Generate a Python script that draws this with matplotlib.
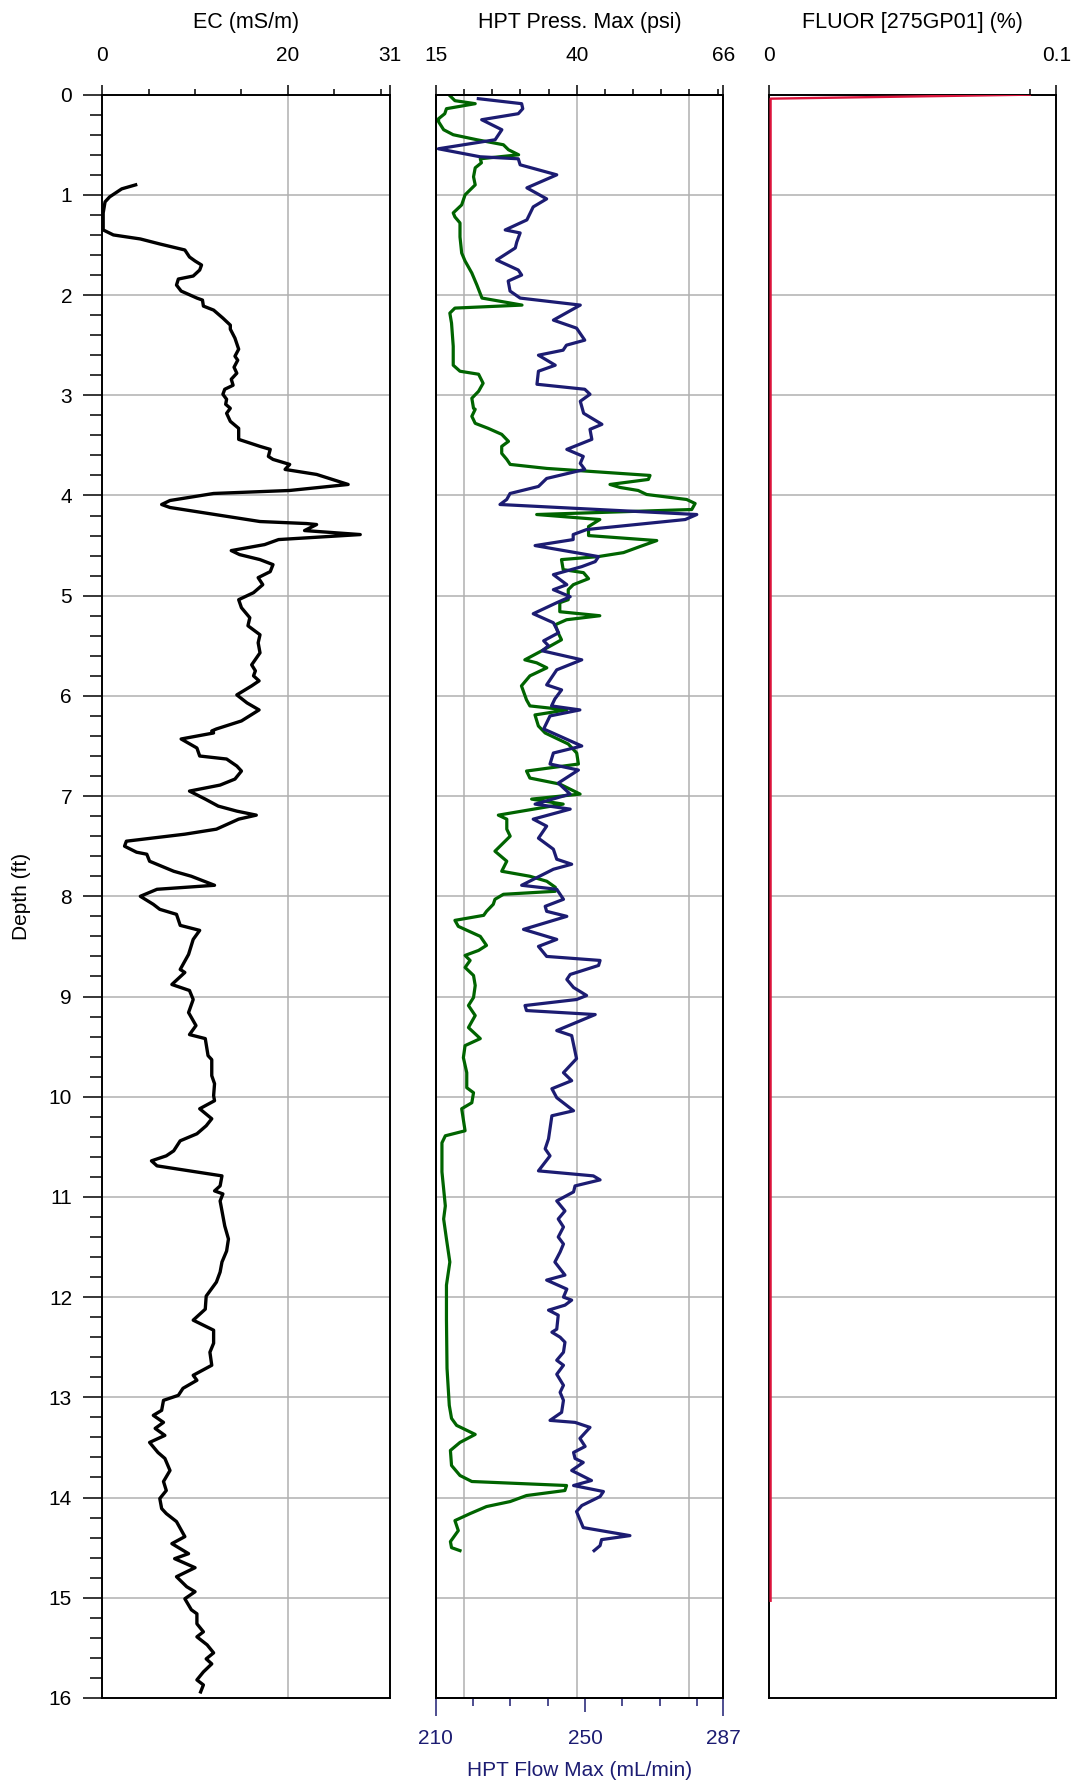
import matplotlib
matplotlib.use("Agg")
import matplotlib.pyplot as plt

plt.rcParams["font.family"] = ["Liberation Sans", "DejaVu Sans"]

# ---- EC log (mS/m) ----
ec_depth = [0.90, 0.94, 1.02, 1.07, 1.18, 1.35, 1.40, 1.44, 1.49, 1.55, 1.62, 1.66, 1.70, 1.75,
            1.81, 1.84, 1.90, 1.96, 2.03, 2.05, 2.11, 2.15, 2.23, 2.30, 2.34, 2.43, 2.54, 2.61,
            2.65, 2.72, 2.78, 2.84, 2.90, 2.94, 2.99, 3.04, 3.09, 3.13, 3.18, 3.26, 3.33, 3.44,
            3.51, 3.54, 3.61, 3.64, 3.69, 3.74, 3.79, 3.89, 3.95, 3.98, 4.05, 4.09, 4.12, 4.26,
            4.28, 4.29, 4.35, 4.39, 4.44, 4.49, 4.55, 4.59, 4.64, 4.69, 4.76, 4.82, 4.89, 4.97,
            5.04, 5.12, 5.22, 5.30, 5.39, 5.47, 5.57, 5.69, 5.75, 5.80, 5.85, 5.90, 5.99, 6.07,
            6.14, 6.25, 6.33, 6.35, 6.37, 6.43, 6.52, 6.60, 6.63, 6.70, 6.75, 6.83, 6.89, 6.95,
            7.03, 7.10, 7.15, 7.19, 7.23, 7.33, 7.38, 7.45, 7.50, 7.56, 7.58, 7.65, 7.75, 7.80,
            7.89, 7.93, 8.00, 8.08, 8.13, 8.18, 8.29, 8.34, 8.43, 8.58, 8.73, 8.76, 8.88, 8.94,
            9.03, 9.16, 9.29, 9.38, 9.42, 9.59, 9.63, 9.79, 9.87, 9.99, 10.04, 10.12, 10.22,
            10.29, 10.37, 10.44, 10.54, 10.59, 10.64, 10.69, 10.79, 10.89, 10.94, 10.97, 11.04,
            11.14, 11.29, 11.42, 11.54, 11.65, 11.75, 11.85, 11.99, 12.12, 12.23, 12.33, 12.46,
            12.55, 12.68, 12.78, 12.83, 12.91, 12.98, 13.03, 13.13, 13.18, 13.25, 13.31, 13.38,
            13.45, 13.55, 13.61, 13.73, 13.84, 13.93, 14.01, 14.11, 14.16, 14.24, 14.39, 14.46,
            14.56, 14.61, 14.70, 14.79, 14.89, 14.94, 15.01, 15.12, 15.16, 15.26, 15.34, 15.39,
            15.47, 15.55, 15.61, 15.66, 15.74, 15.82, 15.87, 15.94]
ec_value = [3.6, 2.1, 0.8, 0.3, 0.1, 0.1, 1.2, 4.1, 6.2, 8.9, 9.4, 10.0, 10.7, 10.5,
            9.8, 8.2, 8.0, 8.5, 10.2, 10.8, 10.9, 12.0, 13.0, 13.8, 13.8, 14.3, 14.7, 14.3,
            14.6, 14.2, 14.5, 13.9, 14.1, 13.2, 13.0, 13.4, 13.3, 13.8, 13.4, 13.8, 14.7, 14.7,
            17.0, 18.1, 17.9, 18.4, 20.2, 19.7, 23.1, 26.5, 20.2, 12.0, 7.3, 6.4, 7.3, 17.0,
            22.0, 23.1, 21.8, 27.8, 19.0, 17.5, 13.9, 14.8, 17.0, 18.4, 18.1, 16.8, 17.3, 16.3,
            14.7, 15.0, 15.9, 15.7, 17.0, 16.8, 17.0, 16.1, 16.5, 16.3, 16.9, 16.1, 14.5, 15.6,
            16.9, 15.0, 12.3, 11.8, 12.0, 8.5, 10.2, 10.5, 13.4, 14.5, 15.0, 14.3, 12.7, 9.4,
            11.1, 12.5, 14.5, 16.6, 14.7, 12.3, 8.9, 2.6, 2.4, 3.7, 4.8, 5.1, 7.7, 9.6,
            12.1, 5.9, 4.1, 5.5, 6.2, 8.0, 8.4, 10.5, 9.8, 9.3, 8.4, 8.9, 7.5, 9.4,
            9.8, 9.3, 10.1, 9.4, 11.1, 11.4, 11.8, 11.8, 12.1, 12.0, 12.1, 10.5, 11.8,
            11.2, 10.2, 8.4, 7.7, 6.9, 5.3, 5.9, 12.9, 12.7, 12.1, 13.0, 12.7,
            12.9, 13.2, 13.6, 13.4, 12.9, 12.7, 12.3, 11.2, 11.1, 9.8, 12.0, 12.0,
            11.6, 11.8, 9.8, 10.2, 8.7, 8.2, 6.6, 6.4, 5.5, 6.6, 5.7, 6.75,
            5.1, 6.0, 6.75, 7.3, 6.6, 6.9, 6.2, 6.4, 6.9, 8.0, 8.9, 7.5,
            9.3, 7.8, 10.0, 8.0, 9.1, 10.0, 8.9, 9.6, 10.2, 10.2, 10.9, 10.2,
            11.3, 12.0, 11.2, 11.8, 10.9, 10.2, 10.9, 10.6]

# ---- HPT pressure (psi) ----
press_depth = [0.01, 0.06, 0.09, 0.14, 0.19, 0.24, 0.27, 0.35, 0.40, 0.45, 0.50, 0.55, 0.60,
               0.64, 0.68, 0.73, 0.82, 0.90, 0.95, 1.00, 1.10, 1.18, 1.22, 1.28, 1.42, 1.58,
               1.66, 1.78, 1.90, 2.03, 2.10, 2.13, 2.18, 2.28, 2.51, 2.70, 2.76, 2.79, 2.88,
               2.96, 3.03, 3.13, 3.14, 3.21, 3.28, 3.33, 3.39, 3.46, 3.51, 3.58, 3.64, 3.69,
               3.73, 3.80, 3.84, 3.89, 3.92, 3.95, 3.99, 4.04, 4.08, 4.14, 4.19, 4.24, 4.31,
               4.40, 4.45, 4.51, 4.57, 4.61, 4.64, 4.74, 4.77, 4.83, 4.89, 4.94, 5.04, 5.07,
               5.16, 5.20, 5.24, 5.29, 5.37, 5.44, 5.55, 5.64, 5.67, 5.72, 5.80, 5.90, 6.04,
               6.10, 6.14, 6.19, 6.30, 6.37, 6.48, 6.57, 6.68, 6.75, 6.82, 6.88, 6.98, 7.03,
               7.08, 7.19, 7.23, 7.33, 7.40, 7.55, 7.65, 7.75, 7.80, 7.85, 7.91, 7.95, 7.98,
               8.03, 8.08, 8.15, 8.19, 8.24, 8.30, 8.40, 8.49, 8.54, 8.59, 8.64, 8.71, 8.79,
               8.89, 9.01, 9.09, 9.19, 9.31, 9.42, 9.49, 9.61, 9.76, 9.91, 9.96, 10.06, 10.12,
               10.34, 10.39, 10.46, 10.75, 11.09, 11.22, 11.42, 11.65, 11.88, 12.22, 12.71,
               13.08, 13.21, 13.28, 13.37, 13.45, 13.53, 13.68, 13.78, 13.84, 13.88, 13.93,
               13.98, 14.04, 14.09, 14.16, 14.23, 14.33, 14.44, 14.50, 14.53]
press_value = [17.5, 18.4, 22.0, 16.9, 16.6, 15.5, 15.5, 16.4, 18.1, 22.3, 27.0, 27.9, 29.7,
               22.9, 23.1, 22.0, 21.7, 22.0, 21.1, 20.2, 19.6, 18.1, 18.4, 19.3, 19.3, 19.6,
               20.2, 21.4, 22.3, 23.2, 30.3, 18.4, 17.5, 17.8, 18.1, 18.1, 19.3, 22.6, 23.4,
               22.6, 21.4, 21.7, 22.0, 21.4, 22.0, 24.3, 26.7, 27.9, 26.7, 26.7, 27.6, 28.2,
               34.7, 53.0, 52.7, 45.9, 47.7, 50.9, 52.4, 59.5, 61.0, 60.4, 32.9, 44.1, 42.1,
               42.1, 54.2, 51.2, 48.3, 43.8, 37.3, 37.6, 41.2, 42.1, 39.4, 38.5, 38.5, 37.0,
               37.0, 44.1, 38.2, 36.2, 36.7, 37.3, 33.8, 30.8, 32.9, 34.7, 31.7, 30.2, 31.1,
               31.7, 38.2, 32.6, 33.2, 34.4, 38.5, 40.0, 40.3, 31.1, 31.7, 37.0, 40.6, 32.0,
               37.6, 26.1, 27.6, 27.6, 28.2, 25.5, 27.6, 26.7, 31.7, 34.7, 36.2, 36.2, 27.0,
               25.5, 25.2, 24.0, 23.5, 18.4, 19.0, 22.9, 24.0, 22.6, 20.2, 21.1, 20.2, 21.7,
               22.0, 21.7, 20.8, 22.0, 20.8, 22.9, 20.2, 19.9, 20.5, 20.5, 21.7, 21.4, 19.6,
               20.2, 16.7, 16.1, 16.1, 16.7, 16.4, 16.9, 17.5, 16.9, 16.9, 17.0,
               17.4, 17.8, 18.7, 22.0, 19.3, 17.6, 17.8, 19.3, 21.4, 38.2, 37.9,
               31.1, 28.2, 24.0, 21.1, 18.4, 19.0, 17.6, 17.8, 19.3]

# ---- HPT flow (mL/min) ----
flow_depth = [0.04, 0.09, 0.14, 0.19, 0.25, 0.35, 0.45, 0.54, 0.62, 0.64, 0.70, 0.80, 0.93,
              1.04, 1.12, 1.25, 1.35, 1.38, 1.47, 1.53, 1.65, 1.75, 1.80, 1.86, 1.96, 2.03,
              2.10, 2.25, 2.33, 2.45, 2.50, 2.55, 2.60, 2.70, 2.76, 2.89, 2.94, 2.99, 3.06,
              3.18, 3.29, 3.34, 3.44, 3.54, 3.61, 3.68, 3.74, 3.83, 3.91, 3.98, 4.04, 4.09,
              4.19, 4.24, 4.34, 4.39, 4.44, 4.50, 4.61, 4.66, 4.71, 4.79, 4.89, 4.94, 5.01,
              5.07, 5.18, 5.27, 5.37, 5.45, 5.50, 5.55, 5.64, 5.74, 5.89, 5.94, 6.03, 6.10,
              6.14, 6.20, 6.33, 6.50, 6.57, 6.68, 6.74, 6.87, 6.98, 7.08, 7.13, 7.23, 7.30,
              7.42, 7.53, 7.63, 7.68, 7.73, 7.89, 7.93, 8.03, 8.10, 8.15, 8.20, 8.33, 8.43,
              8.50, 8.60, 8.64, 8.69, 8.78, 8.83, 8.91, 8.99, 9.03, 9.09, 9.14, 9.18, 9.34,
              9.39, 9.62, 9.76, 9.84, 9.92, 10.01, 10.14, 10.19, 10.42, 10.52, 10.59, 10.74,
              10.79, 10.83, 10.89, 10.95, 11.04, 11.14, 11.22, 11.30, 11.40, 11.47, 11.55,
              11.65, 11.78, 11.83, 11.92, 12.00, 12.03, 12.08, 12.13, 12.18, 12.32, 12.35,
              12.40, 12.45, 12.55, 12.63, 12.68, 12.77, 12.88, 12.95, 13.03, 13.15, 13.23,
              13.25, 13.30, 13.41, 13.49, 13.55, 13.61, 13.65, 13.73, 13.83, 13.88, 13.94,
              13.99, 14.08, 14.14, 14.30, 14.38, 14.42, 14.48, 14.53]
flow_value = [221.4, 233.0, 233.3, 232.1, 222.3, 227.7, 225.9, 210.7, 221.9, 232.1, 232.6, 242.4, 234.4,
              239.7, 236.1, 234.4, 228.6, 232.6, 231.7, 231.3, 226.3, 232.1, 233.0, 229.4, 229.9, 232.6,
              248.7, 241.5, 247.7, 249.9, 245.0, 244.1, 237.5, 242.0, 237.5, 237.1, 249.9, 251.3, 248.7,
              249.6, 254.5, 251.3, 251.8, 245.1, 249.5, 248.7, 249.9, 239.7, 237.5, 229.9, 229.0, 227.2,
              279.9, 276.8, 250.4, 246.8, 246.8, 236.6, 253.6, 252.7, 249.1, 241.5, 245.1, 241.5, 246.0,
              242.4, 236.1, 241.5, 242.9, 238.9, 240.2, 238.5, 249.1, 242.4, 239.7, 243.7, 241.9, 241.0,
              248.6, 240.6, 238.9, 249.1, 241.5, 240.6, 248.2, 242.8, 246.0, 236.6, 246.0, 236.1, 239.7,
              237.5, 241.5, 242.4, 246.4, 241.5, 233.0, 242.4, 244.2, 239.3, 239.7, 245.1, 233.5, 242.4,
              237.5, 239.7, 254.0, 253.6, 246.0, 245.1, 246.9, 250.4, 247.7, 233.9, 234.3, 252.7, 242.4,
              246.4, 247.7, 244.2, 246.4, 241.1, 242.4, 246.9, 241.1, 240.2, 239.3, 240.6, 237.5,
              252.2, 254.0, 247.3, 246.9, 242.4, 244.6, 242.8, 244.2, 242.8, 244.2, 243.3,
              241.9, 244.6, 239.7, 245.1, 244.2, 246.4, 244.6, 240.2, 242.8, 242.4, 241.1,
              243.3, 244.6, 244.2, 242.4, 244.2, 242.4, 244.2, 243.3, 244.2, 243.7, 240.6,
              247.3, 251.3, 248.6, 250.0, 246.9, 247.3, 249.5, 246.4, 251.7, 246.9, 254.9,
              254.0, 249.1, 247.7, 249.5, 262.0, 254.4, 254.0, 252.4]

# ---- Fluorescence (%) ----
fluor_depth = [0.0, 0.04, 15.03]
fluor_value = [0.0998, 0.0006, 0.0006]

# ---- axis scales and tick labels ----
ec_limits = (0, 31)
ec_major = [0, 20, 31]
ec_minor = [5, 10, 15, 25, 30]
ec_grid = [20]

press_limits = (15, 66)
press_major = [15, 40, 66]
press_minor = [20, 25, 30, 35, 45, 50, 55, 60, 65]
press_grid = [20, 40, 60]

flow_limits = (210, 287)
flow_major = [210, 250, 287]
flow_minor = [220, 230, 240, 260, 270, 280]

fluor_limits = (0, 0.11)
fluor_major = [0, 0.11]
fluor_labels = ["0", "0.1"]
fluor_minor = [0.1]

depth_major = list(range(0, 17))
depth_minor = [i * 0.2 for i in range(0, 81)]
depth_grid = list(range(1, 16))

titles = ["EC (mS/m)", "HPT Press. Max (psi)", "FLUOR [275GP01] (%)"]

GREEN = "#006400"
NAVY = "#1c1c72"
RED = "#dc143c"
GRID = "#b0b0b0"
FS = 15

fig = plt.figure(figsize=(10.73, 17.86), dpi=100)
bottom, height = 0.0493, 0.8977
ax_ec = fig.add_axes([0.0953, bottom, 0.2681, height])
ax_p = fig.add_axes([0.4061, bottom, 0.2680, height])
ax_fl = fig.add_axes([0.7167, bottom, 0.2679, height])


def base_style(ax, vgrid):
    ax.set_ylim(16, 0)
    for s in ax.spines.values():
        s.set_linewidth(1.4)
        s.set_color("black")
    for d in depth_grid:
        ax.axhline(d, color=GRID, lw=1.1, zorder=0.5)
    for g in vgrid:
        ax.axvline(g, color=GRID, lw=1.1, zorder=0.5)


def top_ticks(ax, major, labels, minor):
    ax.xaxis.tick_top()
    ax.set_xticks(major)
    ax.set_xticklabels(labels)
    ax.set_xticks(minor, minor=True)
    ax.tick_params(axis="x", which="major", length=7.2, width=1.1, pad=14.5,
                   labelsize=FS, direction="out")
    ax.tick_params(axis="x", which="minor", length=4.3, width=1.1, direction="out")


def no_depth_ticks(ax):
    ax.tick_params(axis="y", which="both", left=False, right=False,
                   labelleft=False, labelright=False)


# EC panel
base_style(ax_ec, ec_grid)
ax_ec.plot(ec_value, ec_depth, color="black", lw=2.4, solid_joinstyle="round", zorder=3)
ax_ec.set_xlim(*ec_limits)
top_ticks(ax_ec, ec_major, [str(v) for v in ec_major], ec_minor)
ax_ec.set_yticks(depth_major)
ax_ec.set_yticks(depth_minor, minor=True)
ax_ec.tick_params(axis="y", which="major", length=13.7, width=1.1, pad=8, labelsize=FS)
ax_ec.tick_params(axis="y", which="minor", length=8.4, width=1.1)
ax_ec.set_ylabel("Depth (ft)", fontsize=FS)
ax_ec.yaxis.set_label_coords(-0.248, 0.5)

# HPT panel: pressure on the top axis, flow on the bottom axis
base_style(ax_p, press_grid)
ax_p.plot(press_value, press_depth, color=GREEN, lw=2.3, solid_joinstyle="round", zorder=3)
ax_p.set_xlim(*press_limits)
no_depth_ticks(ax_p)

ax_q = ax_p.twiny()
ax_q.set_xlim(*flow_limits)
ax_q.plot(flow_value, flow_depth, color=NAVY, lw=2.3, solid_joinstyle="round", zorder=3)
ax_q.xaxis.tick_bottom()
ax_q.xaxis.set_label_position("bottom")
ax_q.set_xticks(flow_major)
ax_q.set_xticklabels([str(v) for v in flow_major])
ax_q.set_xticks(flow_minor, minor=True)
ax_q.tick_params(axis="x", which="major", length=13, width=1.1, pad=9.4, labelsize=FS,
                 color=NAVY, labelcolor=NAVY, direction="out")
ax_q.tick_params(axis="x", which="minor", length=5.8, width=1.1, color=NAVY, direction="out")
ax_q.xaxis.get_major_ticks()[1].tick1line.set_markersize(10)
ax_q.set_xlabel("HPT Flow Max (mL/min)", fontsize=FS, color=NAVY)
ax_q.xaxis.set_label_coords(0.5, -0.0393)
for s in ax_q.spines.values():
    s.set_linewidth(1.4)
    s.set_color("black")
no_depth_ticks(ax_q)

top_ticks(ax_p, press_major, [str(v) for v in press_major], press_minor)

# Fluorescence panel
base_style(ax_fl, [])
ax_fl.plot(fluor_value, fluor_depth, color=RED, lw=1.7, zorder=3)
ax_fl.set_xlim(*fluor_limits)
top_ticks(ax_fl, fluor_major, fluor_labels, fluor_minor)
no_depth_ticks(ax_fl)

for ax, t in zip([ax_ec, ax_p, ax_fl], titles):
    ax.text(0.5, 1.0453, t, transform=ax.transAxes, ha="center", va="center", fontsize=15.5)

fig.savefig("out.png", dpi=100)
